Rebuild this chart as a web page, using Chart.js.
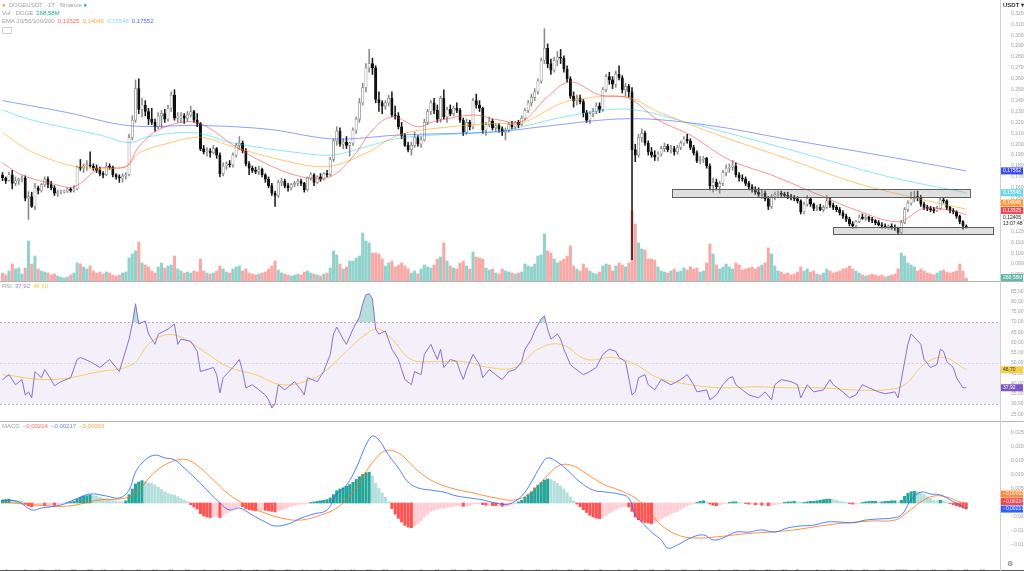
<!DOCTYPE html>
<html>
<head>
<meta charset="utf-8">
<script src="https://cdn.jsdelivr.net/npm/chart.js@4.4.1/dist/chart.umd.min.js"></script>
<style>
body{margin:0;background:#fff;width:1024px;height:571px;overflow:hidden;position:relative;font-family:"Liberation Sans",Arial,sans-serif;}
canvas{position:absolute;left:0}
#main{top:0}
#rsi{top:282px}
#macd{top:422px}
.hline{position:absolute;left:0;width:1024px;height:1px;background:#b4b4b4}
.vline{position:absolute;left:1000px;top:0;width:1px;height:571px;background:#cfcfcf}
.lg{position:absolute;left:2px;font-size:6px;line-height:8px;color:#a0a0a0;white-space:nowrap}
.lg span{margin-right:3px}
.usdt{position:absolute;left:1003px;top:1px;font-size:6px;font-weight:bold;color:#333}
.gear{position:absolute;left:1007px;top:560px;font-size:7px;color:#666}
.btn{position:absolute;left:2px;top:27px;width:8px;height:5px;border:1px solid #ccc;border-radius:1px}
</style>
</head>
<body>
<canvas id="main" width="1024" height="281"></canvas>
<canvas id="rsi" width="1024" height="139"></canvas>
<canvas id="macd" width="1024" height="149"></canvas>
<div class="hline" style="top:281px"></div>
<div class="hline" style="top:421px"></div>
<div class="hline" style="top:570px;background:#555"></div>
<div class="vline"></div>
<div class="lg" style="top:1px"><span style="color:#f0a030">●</span>DOGEUSDT · 1T · Binance <span style="color:#26a69a">●</span></div>
<div class="lg" style="top:9px"><span>Vol · DOGE</span><span style="color:#26a69a">268,58M</span></div>
<div class="lg" style="top:17px"><span>EMA 20/50/100/200</span><span style="color:#f36b70">0,13525</span><span style="color:#ffa64d">0,14046</span><span style="color:#7fdbe8">0,15546</span><span style="color:#5b63f5">0,17552</span></div>
<div class="btn"></div>
<div class="lg" style="top:282px"><span>RSI</span><span style="color:#9b7fd4">37,92</span><span style="color:#f5c542">46,70</span></div>
<div class="lg" style="top:422px"><span>MACD</span><span style="color:#f36b70">−0,00214</span><span style="color:#6b86f5">−0,00217</span><span style="color:#ffa64d">−0,00003</span></div>
<div class="usdt">USDT ▾</div>
<div class="gear">⚙</div>
<script>
// daily candles from 30 Mar 2025, [open, high, low, close]
const candles = [
[.1715,.1740,.1665,.1690],[.1690,.1700,.1640,.1665],[.1665,.1745,.1660,.1720],[.1720,.1760,.1590,.1640],[.1640,.1700,.1620,.1665],
[.1665,.1690,.1630,.1680],[.1680,.1710,.1655,.1690],[.1690,.1710,.1480,.1505],[.1505,.1565,.1310,.1520],[.1520,.1560,.1420,.1430],
[.1430,.1640,.1400,.1600],[.1600,.1615,.1545,.1575],[.1575,.1640,.1560,.1630],[.1630,.1700,.1610,.1680],[.1680,.1700,.1600,.1630],
[.1630,.1660,.1580,.1600],[.1600,.1620,.1530,.1550],[.1550,.1580,.1520,.1560],[.1560,.1580,.1545,.1565],[.1565,.1580,.1550,.1570],
[.1570,.1600,.1555,.1590],[.1590,.1600,.1560,.1575],[.1575,.1620,.1560,.1590],[.1590,.1800,.1580,.1790],[.1790,.1860,.1760,.1780],
[.1780,.1820,.1740,.1800],[.1800,.1850,.1760,.1810],[.1810,.1930,.1790,.1800],[.1800,.1820,.1760,.1780],[.1780,.1810,.1740,.1760],
[.1760,.1790,.1710,.1730],[.1730,.1750,.1690,.1720],[.1720,.1830,.1710,.1800],[.1800,.1820,.1770,.1790],[.1790,.1800,.1700,.1720],
[.1720,.1730,.1680,.1700],[.1700,.1720,.1650,.1690],[.1690,.1730,.1650,.1710],[.1710,.1740,.1680,.1720],[.1720,.2090,.1710,.2060],
[.2060,.2260,.2040,.2220],[.2220,.2590,.2200,.2510],[.2510,.2600,.2280,.2320],[.2320,.2420,.2250,.2360],[.2360,.2400,.2260,.2300],
[.2300,.2330,.2180,.2230],[.2230,.2330,.2180,.2200],[.2200,.2230,.2120,.2160],[.2160,.2290,.2140,.2260],[.2260,.2310,.2150,.2280],
[.2280,.2320,.2200,.2230],[.2230,.2360,.2210,.2330],[.2330,.2480,.2300,.2450],[.2450,.2500,.2220,.2240],[.2240,.2290,.2200,.2260],
[.2240,.2290,.2200,.2260],[.2260,.2280,.2190,.2240],[.2240,.2300,.2210,.2270],[.2270,.2350,.2250,.2300],[.2300,.2310,.2200,.2220],
[.2220,.2280,.2160,.2190],[.2190,.2200,.1940,.1960],[.1960,.1990,.1910,.1930],[.1930,.1970,.1890,.1940],[.1940,.1960,.1880,.1920],
[.1920,.1990,.1910,.1960],[.1960,.1970,.1870,.1900],[.1900,.1920,.1700,.1730],[.1730,.1830,.1710,.1800],[.1800,.1840,.1770,.1820],
[.1820,.1850,.1790,.1810],[.1810,.1920,.1790,.1900],[.1900,.2010,.1880,.1990],[.1990,.2070,.1950,.2010],[.2010,.2030,.1920,.1940],
[.1940,.1960,.1800,.1820],[.1820,.1840,.1720,.1780],[.1780,.1800,.1740,.1760],[.1760,.1790,.1730,.1750],[.1750,.1800,.1720,.1770],
[.1770,.1780,.1700,.1720],[.1720,.1730,.1650,.1680],[.1680,.1700,.1600,.1620],[.1620,.1640,.1530,.1550],[.1550,.1570,.1430,.1530],
[.1530,.1670,.1510,.1650],[.1650,.1690,.1620,.1660],[.1660,.1680,.1600,.1620],[.1620,.1640,.1570,.1600],[.1600,.1640,.1580,.1630],
[.1630,.1660,.1610,.1640],[.1640,.1680,.1620,.1660],[.1660,.1680,.1620,.1640],[.1640,.1650,.1560,.1580],[.1580,.1700,.1570,.1690],
[.1690,.1740,.1670,.1720],[.1720,.1730,.1620,.1650],[.1650,.1710,.1640,.1700],[.1700,.1730,.1660,.1680],[.1680,.1740,.1670,.1730],
[.1730,.1760,.1700,.1720],[.1720,.1880,.1710,.1860],[.1860,.2050,.1840,.2030],[.2030,.2160,.1990,.2120],[.2120,.2150,.1980,.2000],
[.2000,.2050,.1960,.2020],[.2020,.2070,.1960,.1990],[.1990,.2020,.1890,.2010],[.2010,.2150,.1990,.2130],[.2130,.2250,.2100,.2230],
[.2230,.2420,.2200,.2380],[.2380,.2560,.2360,.2520],[.2520,.2740,.2480,.2700],[.2700,.2870,.2660,.2740],[.2740,.2790,.2640,.2700],
[.2700,.2720,.2380,.2410],[.2410,.2480,.2300,.2380],[.2380,.2400,.2280,.2350],[.2350,.2400,.2320,.2380],[.2380,.2450,.2350,.2420],
[.2420,.2480,.2250,.2270],[.2270,.2350,.2230,.2260],[.2260,.2290,.2140,.2160],[.2160,.2200,.2050,.2080],[.2080,.2100,.1980,.1990],
[.1990,.2020,.1930,.1950],[.1950,.2020,.1900,.1990],[.1990,.2110,.1970,.2060],[.2060,.2080,.1980,.2000],[.2000,.2070,.1970,.2040],
[.2040,.2230,.2030,.2200],[.2200,.2320,.2180,.2300],[.2300,.2400,.2270,.2380],[.2380,.2420,.2280,.2310],[.2310,.2360,.2200,.2230],
[.2230,.2440,.2200,.2420],[.2420,.2500,.2230,.2250],[.2250,.2340,.2200,.2320],[.2320,.2360,.2260,.2280],[.2280,.2350,.2260,.2330],
[.2330,.2380,.2290,.2310],[.2310,.2330,.2200,.2220],[.2220,.2240,.2080,.2110],[.2110,.2230,.2090,.2200],[.2200,.2220,.2130,.2160],
[.2160,.2420,.2140,.2400],[.2400,.2460,.2330,.2360],[.2360,.2400,.2300,.2330],[.2330,.2340,.2100,.2130],[.2130,.2200,.2080,.2180],
[.2180,.2250,.2160,.2210],[.2210,.2230,.2130,.2150],[.2150,.2190,.2120,.2170],[.2170,.2190,.2110,.2140],[.2140,.2160,.2080,.2110],
[.2110,.2150,.2040,.2130],[.2130,.2200,.2110,.2180],[.2180,.2210,.2140,.2160],[.2160,.2210,.2140,.2200],[.2200,.2220,.2150,.2180],
[.2180,.2260,.2170,.2240],[.2240,.2330,.2220,.2310],[.2310,.2400,.2290,.2380],[.2380,.2460,.2350,.2430],[.2430,.2510,.2400,.2480],
[.2480,.2600,.2460,.2580],[.2580,.2790,.2560,.2770],[.2770,.3060,.2740,.2880],[.2880,.2920,.2700,.2740],[.2740,.2780,.2640,.2680],
[.2680,.2800,.2660,.2770],[.2770,.2850,.2720,.2800],[.2800,.2870,.2740,.2790],[.2790,.2810,.2660,.2690],[.2690,.2720,.2570,.2600],
[.2600,.2620,.2420,.2440],[.2440,.2480,.2340,.2400],[.2400,.2450,.2360,.2420],[.2420,.2450,.2370,.2390],[.2390,.2410,.2250,.2290],
[.2290,.2310,.2200,.2220],[.2220,.2300,.2190,.2280],[.2280,.2330,.2250,.2300],[.2300,.2380,.2280,.2350],[.2350,.2380,.2290,.2320],
[.2320,.2520,.2300,.2500],[.2500,.2640,.2480,.2620],[.2620,.2660,.2550,.2590],[.2590,.2620,.2510,.2550],[.2550,.2670,.2520,.2640],
[.2640,.2720,.2590,.2610],[.2610,.2630,.2470,.2500],[.2500,.2560,.2440,.2530],[.2530,.2550,.2430,.2480],[.2480,.2520,.0940,.1950],
[.1950,.2000,.1840,.1900],[.1900,.2090,.1880,.2060],[.2060,.2140,.2020,.2100],[.2100,.2120,.1990,.2010],[.2010,.2030,.1900,.1930],
[.1930,.1970,.1880,.1900],[.1900,.1940,.1850,.1880],[.1880,.1930,.1850,.1910],[.1910,.1980,.1890,.1960],[.1960,.2010,.1930,.1980],
[.1980,.2000,.1930,.1950],[.1950,.1990,.1920,.1960],[.1960,.1980,.1900,.1930],[.1930,.1990,.1910,.1970],[.1970,.2030,.1950,.2010],
[.2010,.2070,.1990,.2050],[.2050,.2090,.2010,.2030],[.2030,.2050,.1950,.1970],[.1970,.1990,.1900,.1920],[.1920,.1940,.1830,.1850],
[.1850,.1890,.1820,.1860],[.1860,.1890,.1830,.1870],[.1870,.1880,.1780,.1800],[.1800,.1820,.1580,.1620],[.1620,.1690,.1560,.1650],
[.1650,.1680,.1580,.1610],[.1610,.1660,.1550,.1640],[.1640,.1760,.1620,.1740],[.1740,.1810,.1710,.1780],[.1780,.1820,.1740,.1790],
[.1790,.1850,.1760,.1800],[.1800,.1830,.1700,.1720],[.1720,.1740,.1660,.1690],[.1690,.1720,.1660,.1680],[.1680,.1700,.1620,.1640],
[.1640,.1660,.1580,.1610],[.1610,.1630,.1560,.1580],[.1580,.1610,.1540,.1560],[.1560,.1600,.1520,.1540],[.1540,.1580,.1500,.1550],
[.1550,.1570,.1480,.1500],[.1500,.1520,.1400,.1430],[.1430,.1540,.1410,.1520],[.1520,.1560,.1490,.1540],[.1540,.1570,.1510,.1550],
[.1550,.1570,.1520,.1540],[.1540,.1560,.1510,.1530],[.1530,.1560,.1500,.1520],[.1520,.1540,.1490,.1510],[.1510,.1530,.1480,.1500],
[.1500,.1520,.1460,.1480],[.1480,.1490,.1360,.1380],[.1380,.1470,.1360,.1450],[.1450,.1530,.1430,.1500],[.1500,.1510,.1430,.1450],
[.1450,.1460,.1390,.1410],[.1410,.1440,.1390,.1420],[.1420,.1450,.1390,.1400],[.1400,.1440,.1380,.1420],[.1420,.1530,.1410,.1480],
[.1480,.1510,.1420,.1440],[.1440,.1460,.1400,.1420],[.1420,.1440,.1380,.1400],[.1400,.1420,.1350,.1370],[.1370,.1390,.1320,.1340],
[.1340,.1360,.1290,.1310],[.1310,.1330,.1250,.1270],[.1270,.1290,.1230,.1250],[.1250,.1300,.1230,.1290],[.1290,.1350,.1280,.1330],
[.1330,.1360,.1310,.1320],[.1320,.1350,.1300,.1330],[.1330,.1340,.1290,.1310],[.1310,.1330,.1280,.1300],[.1300,.1310,.1260,.1280],
[.1280,.1300,.1250,.1260],[.1260,.1280,.1230,.1250],[.1250,.1270,.1230,.1240],[.1240,.1260,.1220,.1250],[.1250,.1270,.1220,.1240],
[.1240,.1260,.1210,.1230],[.1230,.1240,.1170,.1190],[.1190,.1300,.1180,.1280],[.1280,.1420,.1270,.1400],[.1400,.1480,.1380,.1460],
[.1460,.1560,.1440,.1500],[.1500,.1570,.1470,.1520],[.1520,.1570,.1480,.1510],[.1510,.1530,.1430,.1450],[.1450,.1470,.1400,.1420],
[.1420,.1440,.1390,.1410],[.1410,.1430,.1380,.1400],[.1400,.1420,.1370,.1390],[.1390,.1430,.1380,.1410],[.1410,.1510,.1400,.1490],
[.1490,.1510,.1460,.1480],[.1480,.1490,.1400,.1420],[.1420,.1430,.1370,.1390],[.1390,.1410,.1360,.1380],[.1380,.1390,.1320,.1340],
[.1340,.1350,.1270,.1290],[.1290,.1300,.1220,.1250],[.1250,.1260,.1230,.1240]
];

// volume in millions of DOGE
const volume = [
800,600,1000,1700,1200,1300,700,1300,4000,1700, 2500,1200,1000,900,800,600,700,500,400,300,
400,600,800,1800,1700,1400,1200,1500,1000,800, 900,700,900,800,600,500,600,800,900,2300,
2700,3000,3900,1800,1600,1400,1000,800,1400,1800, 1300,1500,1600,2500,1200,1000,800,900,800,1000,
900,2200,1000,800,700,800,1000,1500,1200,900, 800,1200,1400,1500,1000,1200,800,700,600,700,
800,900,1200,1500,2000,1100,800,700,600,500, 600,700,600,900,1000,800,700,600,500,700,
800,1300,3000,2600,1700,1200,1400,2000,2000,2300, 2500,4800,4000,3800,2800,2800,2700,2200,1500,1800,
2000,1400,1600,1800,1500,1200,800,1000,700,1200, 1600,1400,1300,1600,2200,2400,3800,2000,1500,1300,
1200,1800,2000,1500,1200,2900,2400,2300,2200,1300, 1100,1200,800,700,1200,1000,900,800,700,800,
900,1700,1500,1400,1700,2500,2600,4700,3000,2800, 2200,1800,2000,2200,2500,3500,1500,1200,1000,1700,
1300,1000,800,700,900,1500,1700,1600,1000,1500, 1800,1600,1400,1800,7000,5700,3800,3200,3100,2200,
2200,2100,1400,1000,900,800,1000,1200,900,1000, 1300,1100,1400,1200,1300,900,1000,1800,3700,2700,
1600,1200,1400,1700,1400,1200,1800,1600,1100,1200, 1300,1400,1200,1400,1600,1800,3300,2700,1500,1000,
900,700,800,600,700,900,1400,1000,1200,900, 1000,700,600,800,1200,1000,800,900,1000,1200,
1300,1500,1200,1000,800,600,500,600,700,600, 500,600,400,500,600,700,1200,2800,2500,1800,
1600,1400,1000,1200,1000,800,700,600,800,1000, 1100,900,800,900,1000,1700,1000,269
];

// EMA lines read at sample days: [day index, value]
const ema20 = [[0,.1827],[6,.1717],[15,.1641],[22,.1610],[30,.1779],[38,.1794],[42,.1977],[48,.2130],[57,.2207],[63,.2160],[71,.1993],[81,.1825],[92,.1702],[101,.1702],[108,.1885],[114,.2130],[120,.2252],[128,.2160],[133,.2207],[145,.2268],[153,.2222],[160,.2207],[168,.2436],[175,.2573],[184,.2451],[193,.2421],[202,.2222],[212,.2084],[224,.1855],[237,.1717],[253,.1518],[263,.1396],[276,.1289],[284,.1412],[294,.1381],[297,.1353]];
const ema50 = [[0,.2106],[9,.1931],[23,.1794],[38,.1794],[42,.1919],[51,.2008],[61,.2063],[71,.1977],[86,.1855],[100,.1794],[112,.1917],[122,.2084],[138,.2160],[153,.2192],[160,.2192],[171,.2360],[176,.2406],[192,.2436],[202,.2298],[222,.2069],[243,.1855],[263,.1644],[284,.1488],[297,.1405]];
const ema100 = [[0,.2314],[9,.2222],[30,.2084],[39,.2014],[45,.2069],[59,.2106],[71,.2011],[92,.1919],[102,.1901],[112,.1977],[122,.2054],[133,.2084],[153,.2115],[160,.2160],[176,.2268],[193,.2320],[212,.2192],[243,.1947],[273,.1702],[297,.1555]];
const ema200 = [[0,.2400],[20,.2290],[39,.2170],[61,.2172],[82,.2137],[102,.2048],[122,.2084],[153,.2115],[166,.2160],[193,.2234],[217,.2176],[243,.2039],[273,.1885],[297,.1755]];

const rsi = [[0,41.9],[2,44.3],[4,39.4],[6,41.9],[7,34.4],[8,35.9],[9,33.0],[10,45.8],[12,42.8],[13,46.8],[15,41.9],[16,38.9],[18,40.9],[21,42.8],[23,51.7],[24,52.7],[27,50.7],[30,47.8],[33,51.7],[36,45.8],[39,61.6],[40,69.0],[41,78.9],[42,69.0],[44,70.5],[45,64.1],[47,59.1],[48,64.1],[51,66.5],[53,69.0],[54,59.1],[55,61.6],[58,60.6],[60,55.7],[61,45.8],[63,46.8],[65,47.8],[66,44.3],[67,35.4],[68,42.8],[71,47.8],[73,51.7],[74,45.8],[75,37.9],[77,39.4],[79,36.9],[81,34.4],[82,32.0],[83,28.0],[84,30.0],[85,39.4],[87,36.9],[90,40.9],[92,36.9],[93,34.4],[94,42.8],[97,40.9],[99,45.8],[101,54.2],[102,64.1],[103,67.5],[105,61.6],[106,59.1],[108,66.5],[110,72.5],[111,78.9],[112,83.3],[113,83.8],[114,81.4],[115,66.5],[116,64.1],[118,65.6],[120,56.7],[122,51.7],[123,46.8],[124,41.9],[126,39.4],[127,45.8],[129,44.3],[130,54.2],[132,59.1],[134,51.7],[135,56.7],[136,47.8],[138,51.7],[140,50.7],[141,45.8],[142,41.9],[143,46.8],[145,54.2],[146,51.7],[147,49.3],[148,42.8],[150,46.8],[152,44.3],[154,41.9],[156,45.8],[158,46.8],[160,50.7],[161,56.7],[163,61.6],[164,65.6],[166,71.5],[167,73.0],[168,66.5],[169,61.6],[171,64.1],[172,61.6],[173,56.7],[175,49.3],[176,47.8],[179,44.3],[181,45.8],[183,47.8],[185,54.2],[187,56.7],[189,55.7],[190,52.7],[192,50.7],[194,34.4],[195,35.9],[196,42.8],[198,44.3],[199,39.4],[201,36.9],[203,41.9],[206,39.4],[209,41.9],[211,44.3],[213,39.4],[214,35.9],[217,36.9],[218,32.0],[220,34.4],[222,39.4],[224,42.8],[225,43.3],[226,39.4],[228,36.9],[230,34.4],[233,33.0],[235,35.9],[237,32.0],[238,39.4],[240,41.9],[243,40.9],[245,39.4],[246,33.0],[248,39.4],[250,35.9],[253,36.9],[255,41.9],[256,39.4],[259,35.9],[261,33.0],[263,34.4],[265,39.4],[267,37.9],[270,35.9],[272,35.0],[275,35.9],[276,33.0],[277,41.9],[279,59.1],[280,64.1],[281,62.6],[283,59.1],[284,51.7],[286,47.8],[288,49.3],[289,56.7],[290,55.7],[291,50.7],[293,47.8],[294,42.8],[296,37.9],[297,37.92]];
const rsiMa = [[0,44.3],[15,41.9],[30,45.8],[40,49.3],[45,59.1],[50,63.6],[55,62.6],[62,55.7],[70,47.8],[78,44.3],[86,39.4],[95,41.9],[100,46.8],[106,55.7],[112,64.1],[116,66.5],[120,61.6],[126,51.7],[134,50.7],[142,50.7],[150,47.8],[158,47.8],[165,56.7],[172,59.1],[180,51.7],[188,52.7],[195,49.3],[202,42.8],[212,39.4],[222,37.9],[232,38.4],[242,37.9],[252,37.9],[262,36.9],[272,36.9],[278,39.4],[284,49.3],[290,52.7],[297,46.7]];

const macdLine = [[0,.0011],[5,.0004],[9,-.0025],[12,-.0018],[18,-.0007],[22,.0011],[27,.0032],[32,.0025],[36,.0018],[39,.0046],[41,.0111],[44,.0154],[47,.0171],[50,.0161],[53,.0154],[56,.0125],[60,.0082],[63,.0046],[67,.0000],[70,-.0025],[73,-.0018],[77,-.0043],[81,-.0068],[84,-.0082],[88,-.0075],[92,-.0054],[96,-.0039],[100,-.0025],[103,.0032],[106,.0064],[109,.0125],[112,.0207],[114,.0239],[116,.0225],[119,.0171],[122,.0125],[125,.0075],[128,.0054],[132,.0046],[136,.0039],[140,.0025],[144,.0018],[148,.0011],[152,.0000],[156,-.0004],[160,.0025],[163,.0075],[166,.0136],[168,.0161],[171,.0146],[174,.0118],[178,.0075],[182,.0046],[186,.0039],[190,.0032],[193,.0018],[195,-.0043],[197,-.0068],[200,-.0104],[203,-.0132],[205,-.0161],[208,-.0150],[212,-.0125],[216,-.0114],[219,-.0132],[222,-.0125],[226,-.0104],[230,-.0104],[234,-.0096],[238,-.0104],[242,-.0089],[246,-.0082],[250,-.0079],[254,-.0068],[258,-.0068],[262,-.0071],[266,-.0061],[270,-.0057],[274,-.0054],[277,-.0043],[280,.0011],[283,.0039],[286,.0032],[289,.0029],[292,.0011],[295,-.0007],[297,-.00217]];
const signalLine = [[0,.0004],[10,-.0007],[20,-.0011],[30,.0011],[38,.0018],[42,.0046],[46,.0100],[50,.0136],[54,.0154],[57,.0154],[61,.0125],[65,.0082],[70,.0029],[75,-.0007],[80,-.0032],[86,-.0054],[92,-.0061],[98,-.0043],[103,-.0018],[108,.0039],[112,.0111],[116,.0171],[119,.0189],[123,.0171],[127,.0125],[132,.0082],[138,.0054],[145,.0036],[152,.0018],[158,.0011],[163,.0039],[168,.0100],[172,.0136],[176,.0132],[180,.0104],[185,.0068],[190,.0046],[195,.0018],[199,-.0025],[203,-.0079],[208,-.0114],[213,-.0125],[220,-.0121],[228,-.0111],[236,-.0104],[244,-.0096],[252,-.0082],[260,-.0071],[268,-.0064],[275,-.0061],[279,-.0032],[283,.0004],[287,.0025],[291,.0021],[295,.0004],[297,-.00003]];
const hist = [
.0010,.0012,.0014,.0012,.0010,.0008,.0005, -.0004,-.0010,-.0014,-.0012,-.0010,-.0008,
-.0009,-.0008,-.0007,-.0008,-.0006,-.0004, -.0002,.0002,.0004,.0006,
.0014,.0020,.0024,.0026,.0028,.0026,.0024,.0020, .0016,.0015,.0013,.0010,.0007,.0005,.0004,
.0008,.0030,.0050,.0068,.0075,.0080,.0078,.0072,.0070,.0064, .0056,.0048,.0040,.0034,.0030,.0028,.0022,.0016,.0010,
.0004,-.0006,-.0014,-.0022, -.0038,-.0046,-.0050,-.0052,-.0050,-.0048, -.0052,-.0044,-.0036,-.0030,-.0022,-.0016,
-.0012,-.0014,-.0020,-.0024,-.0026,-.0028,-.0026,-.0025, -.0026,-.0028,-.0030,-.0032,-.0028,-.0024,-.0020,-.0016,
-.0012,-.0008,-.0006,-.0004,-.0004,-.0002,.0002, .0004,.0006,.0008,.0010,.0012,.0018,.0030,
.0044,.0050,.0054,.0060,.0066,.0074,.0084,.0094,.0102,.0108, .0110,.0096,.0070,.0052,.0036,.0020,.0004,
-.0020,-.0040,-.0055,-.0068,-.0080,-.0086,-.0088,-.0082,-.0074,-.0064, -.0050,-.0040,-.0030,-.0026,-.0022,-.0018,-.0018,-.0016,-.0014,-.0012,-.0010,
-.0010,-.0012,-.0010,-.0008,-.0004,-.0002,-.0002,-.0006,-.0008,-.0008,-.0009,-.0010, -.0010,-.0012,-.0012,-.0010,-.0006,-.0002,.0004,.0010,
.0020,.0030,.0040,.0054,.0064,.0074,.0082,.0086,.0084,.0078, .0070,.0060,.0050,.0036,.0022,.0008,-.0004,-.0014,
-.0024,-.0034,-.0044,-.0050,-.0054,-.0056,-.0050,-.0044, -.0036,-.0030,-.0024,-.0018,-.0014,-.0012,-.0014,
-.0030,-.0050,-.0060,-.0066,-.0070,-.0072,-.0074, -.0070,-.0064,-.0056,-.0050,-.0046,-.0040,-.0034,-.0030,
-.0022,-.0016,-.0010,-.0006,-.0002,.0002,.0006,.0008, .0004,-.0004,-.0008,-.0010,-.0008,-.0004,-.0002,.0002,
.0004,.0004,.0002,.0000,-.0002,-.0004,-.0004,-.0006, -.0006,-.0008,-.0008,-.0010,-.0008,-.0006,-.0004,-.0002,
.0002,.0004,.0004,.0006,.0004,.0002,.0002,.0004, .0006,.0006,.0008,.0010,.0012,.0014,.0014,.0012,
.0010,.0006,.0004,.0002,-.0002,-.0004,-.0004,-.0002, .0002,.0004,.0006,.0006,.0006,.0004,.0004,.0006,
.0006,.0008,.0008,.0004,.0010,.0024,.0034,.0040, .0042,.0040,.0036,.0030,.0022,.0016,.0010,.0008,
.0010,.0008,.0004,-.0002,-.0006,-.0010,-.0014,-.0018,-.0021
];

// drawn support / resistance boxes
const zoneFrom = [206.3, 255.9];
const zoneTo = [298.1, 305.2];
const zoneLow = [0.1516, 0.1176];
const zoneHigh = [0.1589, 0.1240];

const priceTicks = [0.08,0.09,0.10,0.11,0.12,0.13,0.14,0.15,0.16,0.17,0.18,0.19,0.20,0.21,0.22,0.23,0.24,0.25,0.26,0.27,0.28,0.29,0.30,0.31,0.32];
const rsiTicks = [25,30,35,40,45,50,55,60,65,70,75,80,85];
const macdTicks = [-0.015,-0.01,-0.005,0,0.005,0.01,0.015,0.02,0.025];
const monthNames = ['Apr','May','Jun','Jul','Aug','Sep','Oct','Nov','Dec','2026'];
const monthStart = [2,32,63,93,124,155,185,216,246,277];
const tickDays = [1,6,11,16,21,26];

const X_MIN = -0.77, X_MAX = 307.4;

Chart.defaults.font.family = "'Liberation Sans', Arial, sans-serif";
Chart.defaults.animation = false;

const tickList = [];
monthStart.forEach((s, m) => tickDays.forEach(d => tickList.push({v: s + d - 1, t: d === 1 ? monthNames[m] : String(d)})));

const comma = (v, n) => v.toFixed(n).replace('.', ',').replace('-', '−');
const pts = arr => arr.map(p => ({x: p[0], y: p[1]}));

function xAxis(show) {
  return {
    type: 'linear', min: X_MIN, max: X_MAX, offset: false, display: show,
    grid: {display: false}, border: {display: false},
    afterBuildTicks: a => { a.ticks = tickList.map(t => ({value: t.v})); },
    afterFit: a => { a.height = show ? 15 : 0; a.paddingLeft = 0; a.paddingRight = 0; },
    ticks: {autoSkip: false, maxRotation: 0, padding: 4, color: '#9a9a9a', font: {size: 5.5},
      callback: v => { const t = tickList.find(k => k.v === v); return t ? t.t : ''; }}
  };
}
function yAxis(min, max, ticks, fmt) {
  return {
    position: 'right', min: min, max: max,
    grid: {display: false}, border: {display: false},
    afterBuildTicks: a => { a.ticks = ticks.map(v => ({value: v})); },
    afterFit: a => { a.width = 24; a.paddingTop = 0; a.paddingBottom = 0; },
    ticks: {autoSkip: false, padding: 3, color: '#a0a0a0', font: {size: 5}, callback: fmt}
  };
}

function drawBadges(chart, axisId, items) {
  const ctx = chart.ctx, sc = chart.scales[axisId];
  const list = items.map(b => Object.assign({y: sc.getPixelForValue(b.v)}, b)).sort((a, b) => b.y - a.y);
  let lim = chart.chartArea.bottom;
  ctx.save();
  ctx.font = '5px "Liberation Sans", Arial';
  ctx.textBaseline = 'middle';
  list.forEach(b => {
    const h = b.lines.length * 6 + 1;
    const c = Math.min(b.y - (b.lift || 0), lim - h / 2);
    lim = c - h / 2 - 0.5;
    ctx.fillStyle = b.bg;
    ctx.fillRect(1001, c - h / 2, 22, h);
    ctx.fillStyle = b.fg;
    b.lines.forEach((s, i) => ctx.fillText(s, 1003, c - h / 2 + 3.5 + i * 6));
  });
  ctx.restore();
}

const upColor = i => candles[i][3] >= candles[i][0];

const mainPlugin = {
  id: 'mainExtras',
  afterDatasetsDraw(chart) {
    const ctx = chart.ctx, xs = chart.scales.x, ys = chart.scales.y;
    ctx.save();
    zoneFrom.forEach((f, i) => {
      const x1 = xs.getPixelForValue(f), x2 = xs.getPixelForValue(zoneTo[i]);
      const y1 = ys.getPixelForValue(zoneHigh[i]), y2 = ys.getPixelForValue(zoneLow[i]);
      ctx.fillStyle = 'rgba(150,150,150,0.3)';
      ctx.fillRect(x1, y1, x2 - x1, y2 - y1);
      ctx.strokeStyle = '#5f5f5f';
      ctx.lineWidth = 1;
      ctx.strokeRect(Math.round(x1) + 0.5, Math.round(y1) + 0.5, Math.round(x2 - x1), Math.round(y2 - y1));
    });
    ctx.restore();
  },
  afterDraw(chart) {
    const last = candles[candles.length - 1];
    drawBadges(chart, 'y', [
      {v: ema200[ema200.length - 1][1], lines: ['0,17552'], bg: '#3f4cf0', fg: '#fff'},
      {v: ema100[ema100.length - 1][1], lines: ['0,15546'], bg: '#6fd6e6', fg: '#fff'},
      {v: ema50[ema50.length - 1][1], lines: ['0,14046'], bg: '#ff9a3c', fg: '#fff'},
      {v: ema20[ema20.length - 1][1], lines: ['0,13525'], bg: '#f0464f', fg: '#fff'},
      {v: last[3], lift: 6, lines: ['0,12405', '13:07:48'], bg: '#ffffff', fg: '#222'}
    ]);
    drawBadges(chart, 'yv', [
      {v: volume[volume.length - 1], lines: ['268,58M'], bg: '#5fb8a9', fg: '#fff'}
    ]);
  }
};

const wickCol = candles.map((c, i) => upColor(i) ? '#8a8a8a' : '#1a1a1a');
new Chart(document.getElementById('main'), {
  type: 'bar',
  data: {
    datasets: [
      {type: 'line', data: pts(ema20), borderColor: 'rgba(242,54,69,0.55)', borderWidth: 1, pointRadius: 0, tension: 0.35, order: 0},
      {type: 'line', data: pts(ema50), borderColor: 'rgba(255,152,0,0.55)', borderWidth: 1, pointRadius: 0, tension: 0.35, order: 0},
      {type: 'line', data: pts(ema100), borderColor: 'rgba(0,200,225,0.45)', borderWidth: 1, pointRadius: 0, tension: 0.35, order: 0},
      {type: 'line', data: pts(ema200), borderColor: 'rgba(41,60,255,0.5)', borderWidth: 1, pointRadius: 0, tension: 0.35, order: 0},
      {data: candles.map((c, i) => ({x: i, y: [c[0], c[3]]})),
       backgroundColor: candles.map((c, i) => upColor(i) ? '#ffffff' : '#111111'),
       borderColor: candles.map((c, i) => upColor(i) ? '#8a8a8a' : '#111111'),
       borderWidth: 0.7, borderSkipped: false, barThickness: 2.4, grouped: false, order: 1},
      {data: candles.map((c, i) => ({x: i, y: [c[2], c[1]]})),
       backgroundColor: wickCol, barThickness: 0.9, grouped: false, order: 2},
      {data: volume.map((v, i) => ({x: i, y: v})), yAxisID: 'yv',
       backgroundColor: volume.map((v, i) => upColor(i) ? 'rgba(38,166,154,0.5)' : 'rgba(239,83,80,0.5)'),
       barThickness: 2.4, grouped: false, order: 5}
    ]
  },
  options: {
    responsive: false, devicePixelRatio: 1, events: [],
    layout: {padding: 0, autoPadding: false},
    plugins: {legend: {display: false}, tooltip: {enabled: false}},
    scales: {
      x: xAxis(false),
      y: yAxis(0.0745, 0.3323, priceTicks, v => comma(v, 5)),
      yv: {display: false, min: 0, max: 28100}
    }
  },
  plugins: [mainPlugin]
});

const rsiPlugin = {
  id: 'rsiExtras',
  beforeDatasetsDraw(chart) {
    const ctx = chart.ctx, a = chart.chartArea, ys = chart.scales.y;
    const y70 = ys.getPixelForValue(70), y50 = ys.getPixelForValue(50), y30 = ys.getPixelForValue(30);
    ctx.save();
    ctx.fillStyle = 'rgba(126,87,194,0.09)';
    ctx.fillRect(a.left, y70, a.right - a.left, y30 - y70);
    ctx.strokeStyle = 'rgba(120,123,134,0.55)';
    ctx.lineWidth = 1;
    ctx.setLineDash([2, 2]);
    [y70, y50, y30].forEach((y, i) => {
      ctx.globalAlpha = i === 1 ? 0.5 : 1;
      ctx.beginPath(); ctx.moveTo(a.left, Math.round(y) + 0.5); ctx.lineTo(a.right, Math.round(y) + 0.5); ctx.stroke();
    });
    ctx.restore();
  },
  afterDraw(chart) {
    drawBadges(chart, 'y', [
      {v: rsiMa[rsiMa.length - 1][1], lines: ['46,70'], bg: '#f7cf4a', fg: '#333'},
      {v: rsi[rsi.length - 1][1], lines: ['37,92'], bg: '#7e57c2', fg: '#fff'}
    ]);
  }
};

new Chart(document.getElementById('rsi'), {
  type: 'line',
  data: {
    datasets: [
      {data: pts(rsi), borderColor: '#8a6fd0', borderWidth: 1, pointRadius: 0, tension: 0,
       fill: {target: {value: 70}, above: 'rgba(38,166,154,0.35)', below: 'rgba(0,0,0,0)'}},
      {data: pts(rsi), borderWidth: 0, borderColor: 'rgba(0,0,0,0)', pointRadius: 0, tension: 0,
       fill: {target: {value: 30}, above: 'rgba(0,0,0,0)', below: 'rgba(239,83,80,0.3)'}},
      {data: pts(rsiMa), borderColor: 'rgba(247,200,70,0.85)', borderWidth: 1, pointRadius: 0, tension: 0.4}
    ]
  },
  options: {
    responsive: false, devicePixelRatio: 1, events: [],
    layout: {padding: 0, autoPadding: false},
    plugins: {legend: {display: false}, tooltip: {enabled: false}},
    scales: {
      x: xAxis(false),
      y: yAxis(21.7, 89.5, rsiTicks, v => comma(v, 2))
    }
  },
  plugins: [rsiPlugin]
});

const histCol = hist.map((v, i) => {
  const p = i > 0 ? hist[i - 1] : v;
  if (v >= 0) return v >= p ? '#26a69a' : '#b2dfdb';
  return v < p ? '#ff5252' : '#ffcdd2';
});

const macdPlugin = {
  id: 'macdExtras',
  afterDraw(chart) {
    drawBadges(chart, 'y', [
      {v: signalLine[signalLine.length - 1][1], lines: ['−0,00003'], bg: '#ff8a3c', fg: '#fff'},
      {v: hist[hist.length - 1], lines: ['−0,00214'], bg: '#f0464f', fg: '#fff'},
      {v: macdLine[macdLine.length - 1][1], lines: ['−0,00217'], bg: '#2f5cff', fg: '#fff'}
    ]);
  }
};

new Chart(document.getElementById('macd'), {
  type: 'bar',
  data: {
    datasets: [
      {type: 'line', data: pts(macdLine), borderColor: 'rgba(41,98,255,0.8)', borderWidth: 1, pointRadius: 0, tension: 0.4, order: 0},
      {type: 'line', data: pts(signalLine), borderColor: 'rgba(255,109,0,0.75)', borderWidth: 1, pointRadius: 0, tension: 0.4, order: 1},
      {data: hist.map((v, i) => ({x: i, y: v})), backgroundColor: histCol, barThickness: 2.4, grouped: false, order: 2}
    ]
  },
  options: {
    responsive: false, devicePixelRatio: 1, events: [],
    layout: {padding: 0, autoPadding: false},
    plugins: {legend: {display: false}, tooltip: {enabled: false}},
    scales: {
      x: xAxis(true),
      y: yAxis(-0.01893, 0.02893, macdTicks, v => comma(v, 5))
    }
  },
  plugins: [macdPlugin]
});
</script>
</body>
</html>
